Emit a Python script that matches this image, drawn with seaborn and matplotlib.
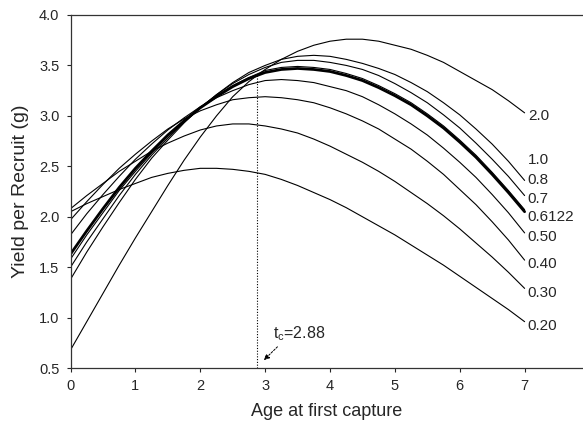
import numpy as np
import pandas as pd
import matplotlib
matplotlib.use('Agg')
import matplotlib.pyplot as plt
import seaborn as sns


# 首次捕捞年龄（横轴）
age = [0, 0.25, 0.5, 0.75, 1, 1.25, 1.5, 1.75, 2, 2.25, 2.5, 2.75, 3, 3.25, 3.5,
       3.75, 4, 4.25, 4.5, 4.75, 5, 5.25, 5.5, 5.75, 6, 6.25, 6.5, 6.75, 7]

# 不同捕捞死亡率 F 下的单位补充量渔获量
ypr_f200 = [0.68, 0.96, 1.24, 1.52, 1.79, 2.05, 2.31, 2.56, 2.79, 3.00, 3.19, 3.34, 3.46, 3.56, 3.64,
            3.70, 3.74, 3.76, 3.76, 3.74, 3.70, 3.66, 3.60, 3.53, 3.44, 3.35, 3.26, 3.15, 3.03]
ypr_f100 = [1.38, 1.65, 1.90, 2.14, 2.37, 2.58, 2.76, 2.93, 3.08, 3.21, 3.33, 3.43, 3.50, 3.56, 3.59,
            3.60, 3.59, 3.56, 3.52, 3.47, 3.41, 3.33, 3.24, 3.13, 3.01, 2.87, 2.72, 2.55, 2.36]
ypr_f080 = [1.50, 1.75, 1.98, 2.21, 2.42, 2.61, 2.78, 2.94, 3.08, 3.21, 3.32, 3.41, 3.48, 3.53, 3.55,
            3.55, 3.53, 3.50, 3.46, 3.40, 3.32, 3.23, 3.13, 3.01, 2.88, 2.73, 2.57, 2.40, 2.21]
ypr_f070 = [1.58, 1.82, 2.04, 2.26, 2.45, 2.63, 2.80, 2.94, 3.08, 3.20, 3.30, 3.38, 3.45, 3.48, 3.49,
            3.48, 3.46, 3.42, 3.37, 3.30, 3.22, 3.13, 3.02, 2.90, 2.76, 2.61, 2.44, 2.26, 2.07]
ypr_f06122 = [1.63, 1.86, 2.08, 2.29, 2.48, 2.65, 2.81, 2.95, 3.08, 3.19, 3.29, 3.37, 3.43, 3.46, 3.47,
              3.46, 3.44, 3.40, 3.35, 3.28, 3.20, 3.11, 3.00, 2.88, 2.74, 2.59, 2.42, 2.24, 2.05]
ypr_f050 = [1.82, 2.03, 2.22, 2.40, 2.57, 2.72, 2.86, 2.98, 3.09, 3.18, 3.25, 3.31, 3.35, 3.36, 3.35,
            3.33, 3.29, 3.25, 3.19, 3.11, 3.02, 2.92, 2.81, 2.68, 2.54, 2.39, 2.22, 2.04, 1.84]
ypr_f040 = [1.97, 2.15, 2.32, 2.48, 2.62, 2.75, 2.87, 2.97, 3.05, 3.11, 3.16, 3.18, 3.19, 3.18, 3.16,
            3.13, 3.08, 3.02, 2.95, 2.87, 2.77, 2.67, 2.55, 2.42, 2.27, 2.12, 1.95, 1.77, 1.57]
ypr_f030 = [2.08, 2.21, 2.33, 2.45, 2.55, 2.65, 2.73, 2.80, 2.86, 2.90, 2.92, 2.92, 2.90, 2.87, 2.83,
            2.77, 2.70, 2.62, 2.54, 2.45, 2.35, 2.24, 2.13, 2.01, 1.88, 1.74, 1.60, 1.45, 1.29]
ypr_f020 = [2.05, 2.13, 2.20, 2.27, 2.33, 2.39, 2.43, 2.46, 2.48, 2.48, 2.47, 2.45, 2.42, 2.37, 2.31,
            2.24, 2.17, 2.09, 2.00, 1.91, 1.82, 1.72, 1.62, 1.52, 1.41, 1.30, 1.19, 1.08, 0.96]

f_labels = ['2.0', '1.0', '0.8', '0.7', '0.6122', '0.50', '0.40', '0.30', '0.20']
curves = [ypr_f200, ypr_f100, ypr_f080, ypr_f070, ypr_f06122,
          ypr_f050, ypr_f040, ypr_f030, ypr_f020]
label_y = [3.00, 2.56, 2.36, 2.18, 2.00, 1.80, 1.53, 1.24, 0.92]   # 右侧标签位置
tc = 2.88

df = pd.DataFrame({'age': age * len(curves),
                   'ypr': sum(curves, []),
                   'F': np.repeat(f_labels, len(age))})

sns.set_style('ticks')
plt.rcParams['font.family'] = ['Liberation Sans', 'DejaVu Sans']
plt.rcParams['mathtext.default'] = 'regular'

fig = plt.figure(figsize=(5.83, 4.28), dpi=100)
ax = fig.add_axes([0.121, 0.140, 0.879, 0.825])

for lab in f_labels:
    lw = 2.0 if lab == '0.6122' else 0.8
    sns.lineplot(data=df[df['F'] == lab], x='age', y='ypr', color='black',
                 lw=lw, ax=ax, legend=False)

for lab, yv in zip(f_labels, label_y):
    ax.text(7.05, yv, lab, fontsize=11, ha='left', va='center')

# tc 竖线
top = np.interp(tc, age, ypr_f06122)
ax.plot([tc, tc], [0.5, top], color='black', lw=0.8, ls=(0, (1, 1.5)))
ax.annotate('', xy=(2.95, 0.56), xytext=(3.22, 0.73),
            arrowprops=dict(arrowstyle='-|>', color='black', lw=0.7,
                            ls=(0, (2, 1.5)), mutation_scale=8))
ax.text(3.12, 0.84, '$t_c$=2.88', fontsize=11.5, ha='left', va='center')

ax.set_xlim(0, 7.9)
ax.set_ylim(0.5, 4.0)
ax.set_xticks(range(0, 8))
ax.set_yticks(np.arange(0.5, 4.01, 0.5))
ax.set_yticklabels(['%.1f' % v for v in np.arange(0.5, 4.01, 0.5)])
ax.tick_params(labelsize=10.5, length=3, width=0.8, pad=5)
ax.spines['right'].set_visible(False)
for s in ['left', 'bottom', 'top']:
    ax.spines[s].set_linewidth(0.9)
    ax.spines[s].set_color('#333333')

ax.set_xlabel('Age at first capture', fontsize=13, labelpad=7)
ax.set_ylabel('Yield per Recruit (g)', fontsize=14, labelpad=7)

fig.savefig('out.png', dpi=100)
